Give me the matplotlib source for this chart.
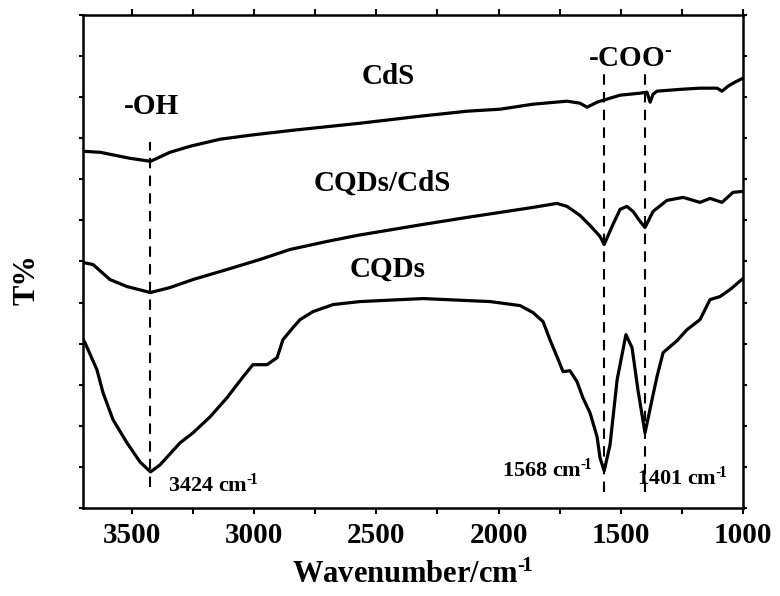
import matplotlib
matplotlib.use("Agg")
import matplotlib.pyplot as plt
from matplotlib.ticker import MultipleLocator, NullFormatter

plt.rcParams['font.family'] = ['Liberation Serif', 'DejaVu Serif']
plt.rcParams['font.weight'] = 'bold'
plt.rcParams['mathtext.fontset'] = 'custom'
plt.rcParams['mathtext.rm'] = 'Liberation Serif:bold'
plt.rcParams['mathtext.bf'] = 'Liberation Serif:bold'
plt.rcParams['mathtext.it'] = 'Liberation Serif:bold'

# ---- data (T in arbitrary units) ----
cds_wn = [3700, 3630, 3508, 3424, 3344, 3262, 3140, 3017, 2841, 2567, 2321, 2129,
          1994, 1859, 1720, 1667, 1638, 1597, 1544, 1503, 1421, 1393, 1380, 1368,
          1352, 1245, 1176, 1106, 1086, 1061, 1033, 1000]
cds_t = [356, 355, 349, 346, 355, 361, 368, 372, 377, 384, 391, 396,
         398, 403, 406, 404, 400, 405, 409, 412, 414, 415, 405, 413,
         416, 418, 419, 419, 416, 421, 425, 429]

cqdcds_wn = [3700, 3659, 3590, 3520, 3424, 3344, 3250, 3111, 2976, 2853,
             2702, 2579, 2432, 2309, 2129, 1994, 1859, 1761, 1720, 1667,
             1626, 1585, 1568, 1532, 1503, 1475, 1450, 1421, 1401, 1368,
             1311, 1245, 1176, 1135, 1086, 1041, 1000]
cqdcds_t = [245, 243, 228, 221, 215, 220, 228, 238, 248, 258,
            266, 272, 278, 283, 290, 295, 300, 304, 301, 292,
            282, 271, 263, 283, 298, 301, 296, 286, 280, 296,
            307, 310, 305, 309, 305, 315, 316]

cqd_wn = [3700, 3692, 3643, 3618, 3577, 3520, 3467, 3424, 3385, 3303,
          3250, 3180, 3111, 3045, 3005, 2947, 2906, 2882, 2841, 2812,
          2759, 2677, 2567, 2309, 2035, 1912, 1859, 1818, 1790, 1761,
          1736, 1708, 1679, 1655, 1626, 1597, 1585, 1568, 1544, 1515,
          1495, 1479, 1454, 1430, 1401, 1368, 1352, 1327, 1270, 1229,
          1176, 1135, 1094, 1053, 1000]
cqd_t = [168, 165, 138, 115, 88, 65, 46, 36, 43, 65,
         75, 91, 110, 131, 143, 143, 150, 168, 180, 188,
         196, 203, 206, 209, 206, 202, 195, 186, 168, 151,
         136, 137, 126, 110, 95, 71, 50, 37, 63, 128,
         153, 173, 160, 118, 75, 113, 131, 155, 167, 178,
         188, 208, 211, 218, 229]

peak_wn = [3424, 1568, 1401]
peak_top = [365, 440, 440]
peak_bottom = [21, 16, 16]

series_names = ['CdS', 'CQDs/CdS', 'CQDs']
x_ticks = [3500, 3000, 2500, 2000, 1500, 1000]

SUP = '$^{\u2010\\!1}$'

# ---- figure ----
fig = plt.figure(figsize=(7.8, 5.96), dpi=100)
ax = fig.add_axes([0.1064, 0.1477, 0.8462, 0.8271])

lw = 2.3
ax.plot(cds_wn, cds_t, color='black', lw=lw, solid_joinstyle='round')
ax.plot(cqdcds_wn, cqdcds_t, color='black', lw=lw, solid_joinstyle='round')
ax.plot(cqd_wn, cqd_t, color='black', lw=lw, solid_joinstyle='round')

for w, t, b in zip(peak_wn, peak_top, peak_bottom):
    ax.plot([w, w], [b, t], color='black', lw=1.5, ls=(0, (5, 3.5)))

ax.set_xlim(3700, 1000)
ax.set_ylim(0, 492)

ax.xaxis.set_minor_locator(MultipleLocator(250))
ax.yaxis.set_major_locator(MultipleLocator(41))
ax.yaxis.set_major_formatter(NullFormatter())
ax.set_xticks(x_ticks)
ax.set_xticklabels([str(v) for v in x_ticks])

ax.tick_params(axis='both', which='both', direction='out', top=True, right=True,
               width=1.5, length=4, labelsize=21, pad=6)
ax.tick_params(axis='y', which='both', length=3)
for lbl in ax.get_xticklabels():
    lbl.set_fontweight('bold')
for s in ax.spines.values():
    s.set_linewidth(1.8)

ax.text(0.5, -0.136, 'Wavenumber/cm' + SUP, transform=ax.transAxes,
        fontsize=22, fontweight='bold', ha='center', va='center')
ax.text(-0.085, 0.463, 'T%', transform=ax.transAxes, rotation=90,
        fontsize=22, fontweight='bold', ha='center', va='center')

fs = 21
ax.text(3418, 401, '-OH', fontsize=fs, fontweight='bold', ha='center', va='center')
ax.text(2452, 431, series_names[0], fontsize=fs, fontweight='bold', ha='center', va='center')
ax.text(2477, 324, series_names[1], fontsize=fs, fontweight='bold', ha='center', va='center')
ax.text(2452, 238, series_names[2], fontsize=fs, fontweight='bold', ha='center', va='center')
ax.text(1462, 449, '-COO$^{\u2010}$', fontsize=fs, fontweight='bold', ha='center', va='center')

fs2 = 16
ax.text(3352, 23, '3424 cm' + SUP, fontsize=fs2, fontweight='bold', ha='left', va='center')
ax.text(1614, 38, '1568 cm' + SUP, fontsize=fs2, fontweight='bold', ha='right', va='center')
ax.text(1434, 30, '1401 cm' + SUP, fontsize=fs2, fontweight='bold', ha='left', va='center')

fig.savefig('out.png', dpi=100)
